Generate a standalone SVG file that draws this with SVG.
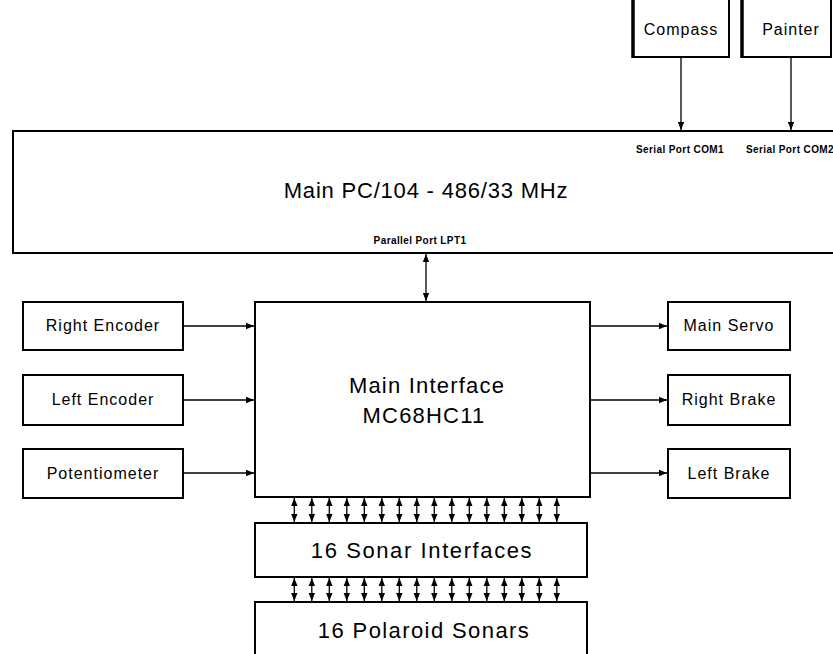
<svg xmlns="http://www.w3.org/2000/svg" width="833" height="654" viewBox="0 0 833 654">
<defs>
<style>
.box{fill:#fff;stroke:#000;stroke-width:2}
.ln{stroke:#000;stroke-width:1.3;fill:none}
.t{font-family:"Liberation Sans",Arial,sans-serif;fill:#000;text-anchor:middle}
.big{font-size:22px;letter-spacing:1.2px}
.mid{font-size:16px;letter-spacing:1px}
.sm{font-size:10px;font-weight:bold;letter-spacing:0.4px}
</style>
<marker id="ah" viewBox="0 0 10 10" refX="10" refY="5" markerWidth="8" markerHeight="8" markerUnits="userSpaceOnUse" orient="auto-start-reverse">
<path d="M0,1 L10,5 L0,9 Z" fill="#000"/>
</marker>
</defs>
<rect width="833" height="654" fill="#fff"/>

<g id="compass">
<rect class="box" x="633" y="-5" width="96" height="62"/>
<line x1="633" y1="-5" x2="633" y2="58" stroke="#000" stroke-width="3.5"/>
<text class="t mid" x="681" y="35">Compass</text>
</g>
<g id="painter">
<rect class="box" x="742" y="-5" width="89" height="62"/>
<line x1="742" y1="-5" x2="742" y2="58" stroke="#000" stroke-width="3.5"/>
<text class="t mid" x="791" y="35">Painter</text>
</g>

<g id="main-pc">
<rect class="box" x="13" y="131" width="830" height="122"/>
<text class="t big" x="426" y="198" style="letter-spacing:0.8px">Main PC/104 - 486/33 MHz</text>
<text class="t sm" x="680" y="153">Serial Port COM1</text>
<text class="t sm" x="790" y="153">Serial Port COM2</text>
<text class="t sm" x="420" y="244">Parallel Port LPT1</text>
</g>

<g id="main-interface">
<rect class="box" x="255" y="302" width="335" height="195"/>
<text class="t big" x="427" y="393">Main Interface</text>
<text class="t big" x="424" y="423">MC68HC11</text>
</g>

<g id="right-encoder">
<rect class="box" x="23" y="302" width="160" height="48"/>
<text class="t mid" x="103" y="331">Right Encoder</text>
</g>
<g id="left-encoder">
<rect class="box" x="23" y="375" width="160" height="50"/>
<text class="t mid" x="103" y="405">Left Encoder</text>
</g>
<g id="potentiometer">
<rect class="box" x="23" y="449" width="160" height="49"/>
<text class="t mid" x="103" y="479">Potentiometer</text>
</g>

<g id="main-servo">
<rect class="box" x="668" y="302" width="122" height="48"/>
<text class="t mid" x="729" y="331">Main Servo</text>
</g>
<g id="right-brake">
<rect class="box" x="668" y="375" width="122" height="50"/>
<text class="t mid" x="729" y="405">Right Brake</text>
</g>
<g id="left-brake">
<rect class="box" x="668" y="449" width="122" height="49"/>
<text class="t mid" x="729" y="479">Left Brake</text>
</g>

<g id="sonar-interfaces">
<rect class="box" x="255" y="523" width="332" height="54"/>
<text class="t big" x="422" y="558" style="letter-spacing:1.6px">16 Sonar Interfaces</text>
</g>
<g id="polaroid-sonars">
<rect class="box" x="255" y="602" width="332" height="60"/>
<text class="t big" x="424" y="638" style="letter-spacing:1.4px">16 Polaroid Sonars</text>
</g>

<g id="connectors">
<line class="ln" x1="681" y1="58" x2="681" y2="130" marker-end="url(#ah)"/>
<line class="ln" x1="791" y1="58" x2="791" y2="130" marker-end="url(#ah)"/>
<line class="ln" x1="426" y1="254" x2="426" y2="301" marker-start="url(#ah)" marker-end="url(#ah)"/>
<line class="ln" x1="184" y1="326" x2="254" y2="326" marker-end="url(#ah)"/>
<line class="ln" x1="184" y1="400" x2="254" y2="400" marker-end="url(#ah)"/>
<line class="ln" x1="184" y1="473" x2="254" y2="473" marker-end="url(#ah)"/>
<line class="ln" x1="591" y1="326" x2="667" y2="326" marker-end="url(#ah)"/>
<line class="ln" x1="591" y1="400" x2="667" y2="400" marker-end="url(#ah)"/>
<line class="ln" x1="591" y1="473" x2="667" y2="473" marker-end="url(#ah)"/>
<g id="bus1">
<line class="ln" x1="294.3" y1="498" x2="294.3" y2="522" marker-start="url(#ah)" marker-end="url(#ah)"/>
<line class="ln" x1="311.8" y1="498" x2="311.8" y2="522" marker-start="url(#ah)" marker-end="url(#ah)"/>
<line class="ln" x1="329.3" y1="498" x2="329.3" y2="522" marker-start="url(#ah)" marker-end="url(#ah)"/>
<line class="ln" x1="346.8" y1="498" x2="346.8" y2="522" marker-start="url(#ah)" marker-end="url(#ah)"/>
<line class="ln" x1="364.3" y1="498" x2="364.3" y2="522" marker-start="url(#ah)" marker-end="url(#ah)"/>
<line class="ln" x1="381.8" y1="498" x2="381.8" y2="522" marker-start="url(#ah)" marker-end="url(#ah)"/>
<line class="ln" x1="399.3" y1="498" x2="399.3" y2="522" marker-start="url(#ah)" marker-end="url(#ah)"/>
<line class="ln" x1="416.8" y1="498" x2="416.8" y2="522" marker-start="url(#ah)" marker-end="url(#ah)"/>
<line class="ln" x1="434.3" y1="498" x2="434.3" y2="522" marker-start="url(#ah)" marker-end="url(#ah)"/>
<line class="ln" x1="451.8" y1="498" x2="451.8" y2="522" marker-start="url(#ah)" marker-end="url(#ah)"/>
<line class="ln" x1="469.3" y1="498" x2="469.3" y2="522" marker-start="url(#ah)" marker-end="url(#ah)"/>
<line class="ln" x1="486.8" y1="498" x2="486.8" y2="522" marker-start="url(#ah)" marker-end="url(#ah)"/>
<line class="ln" x1="504.3" y1="498" x2="504.3" y2="522" marker-start="url(#ah)" marker-end="url(#ah)"/>
<line class="ln" x1="521.8" y1="498" x2="521.8" y2="522" marker-start="url(#ah)" marker-end="url(#ah)"/>
<line class="ln" x1="539.3" y1="498" x2="539.3" y2="522" marker-start="url(#ah)" marker-end="url(#ah)"/>
<line class="ln" x1="556.8" y1="498" x2="556.8" y2="522" marker-start="url(#ah)" marker-end="url(#ah)"/>
</g>
<g id="bus2">
<line class="ln" x1="294.3" y1="578" x2="294.3" y2="601" marker-start="url(#ah)" marker-end="url(#ah)"/>
<line class="ln" x1="311.8" y1="578" x2="311.8" y2="601" marker-start="url(#ah)" marker-end="url(#ah)"/>
<line class="ln" x1="329.3" y1="578" x2="329.3" y2="601" marker-start="url(#ah)" marker-end="url(#ah)"/>
<line class="ln" x1="346.8" y1="578" x2="346.8" y2="601" marker-start="url(#ah)" marker-end="url(#ah)"/>
<line class="ln" x1="364.3" y1="578" x2="364.3" y2="601" marker-start="url(#ah)" marker-end="url(#ah)"/>
<line class="ln" x1="381.8" y1="578" x2="381.8" y2="601" marker-start="url(#ah)" marker-end="url(#ah)"/>
<line class="ln" x1="399.3" y1="578" x2="399.3" y2="601" marker-start="url(#ah)" marker-end="url(#ah)"/>
<line class="ln" x1="416.8" y1="578" x2="416.8" y2="601" marker-start="url(#ah)" marker-end="url(#ah)"/>
<line class="ln" x1="434.3" y1="578" x2="434.3" y2="601" marker-start="url(#ah)" marker-end="url(#ah)"/>
<line class="ln" x1="451.8" y1="578" x2="451.8" y2="601" marker-start="url(#ah)" marker-end="url(#ah)"/>
<line class="ln" x1="469.3" y1="578" x2="469.3" y2="601" marker-start="url(#ah)" marker-end="url(#ah)"/>
<line class="ln" x1="486.8" y1="578" x2="486.8" y2="601" marker-start="url(#ah)" marker-end="url(#ah)"/>
<line class="ln" x1="504.3" y1="578" x2="504.3" y2="601" marker-start="url(#ah)" marker-end="url(#ah)"/>
<line class="ln" x1="521.8" y1="578" x2="521.8" y2="601" marker-start="url(#ah)" marker-end="url(#ah)"/>
<line class="ln" x1="539.3" y1="578" x2="539.3" y2="601" marker-start="url(#ah)" marker-end="url(#ah)"/>
<line class="ln" x1="556.8" y1="578" x2="556.8" y2="601" marker-start="url(#ah)" marker-end="url(#ah)"/>
</g>
</g>
</svg>
